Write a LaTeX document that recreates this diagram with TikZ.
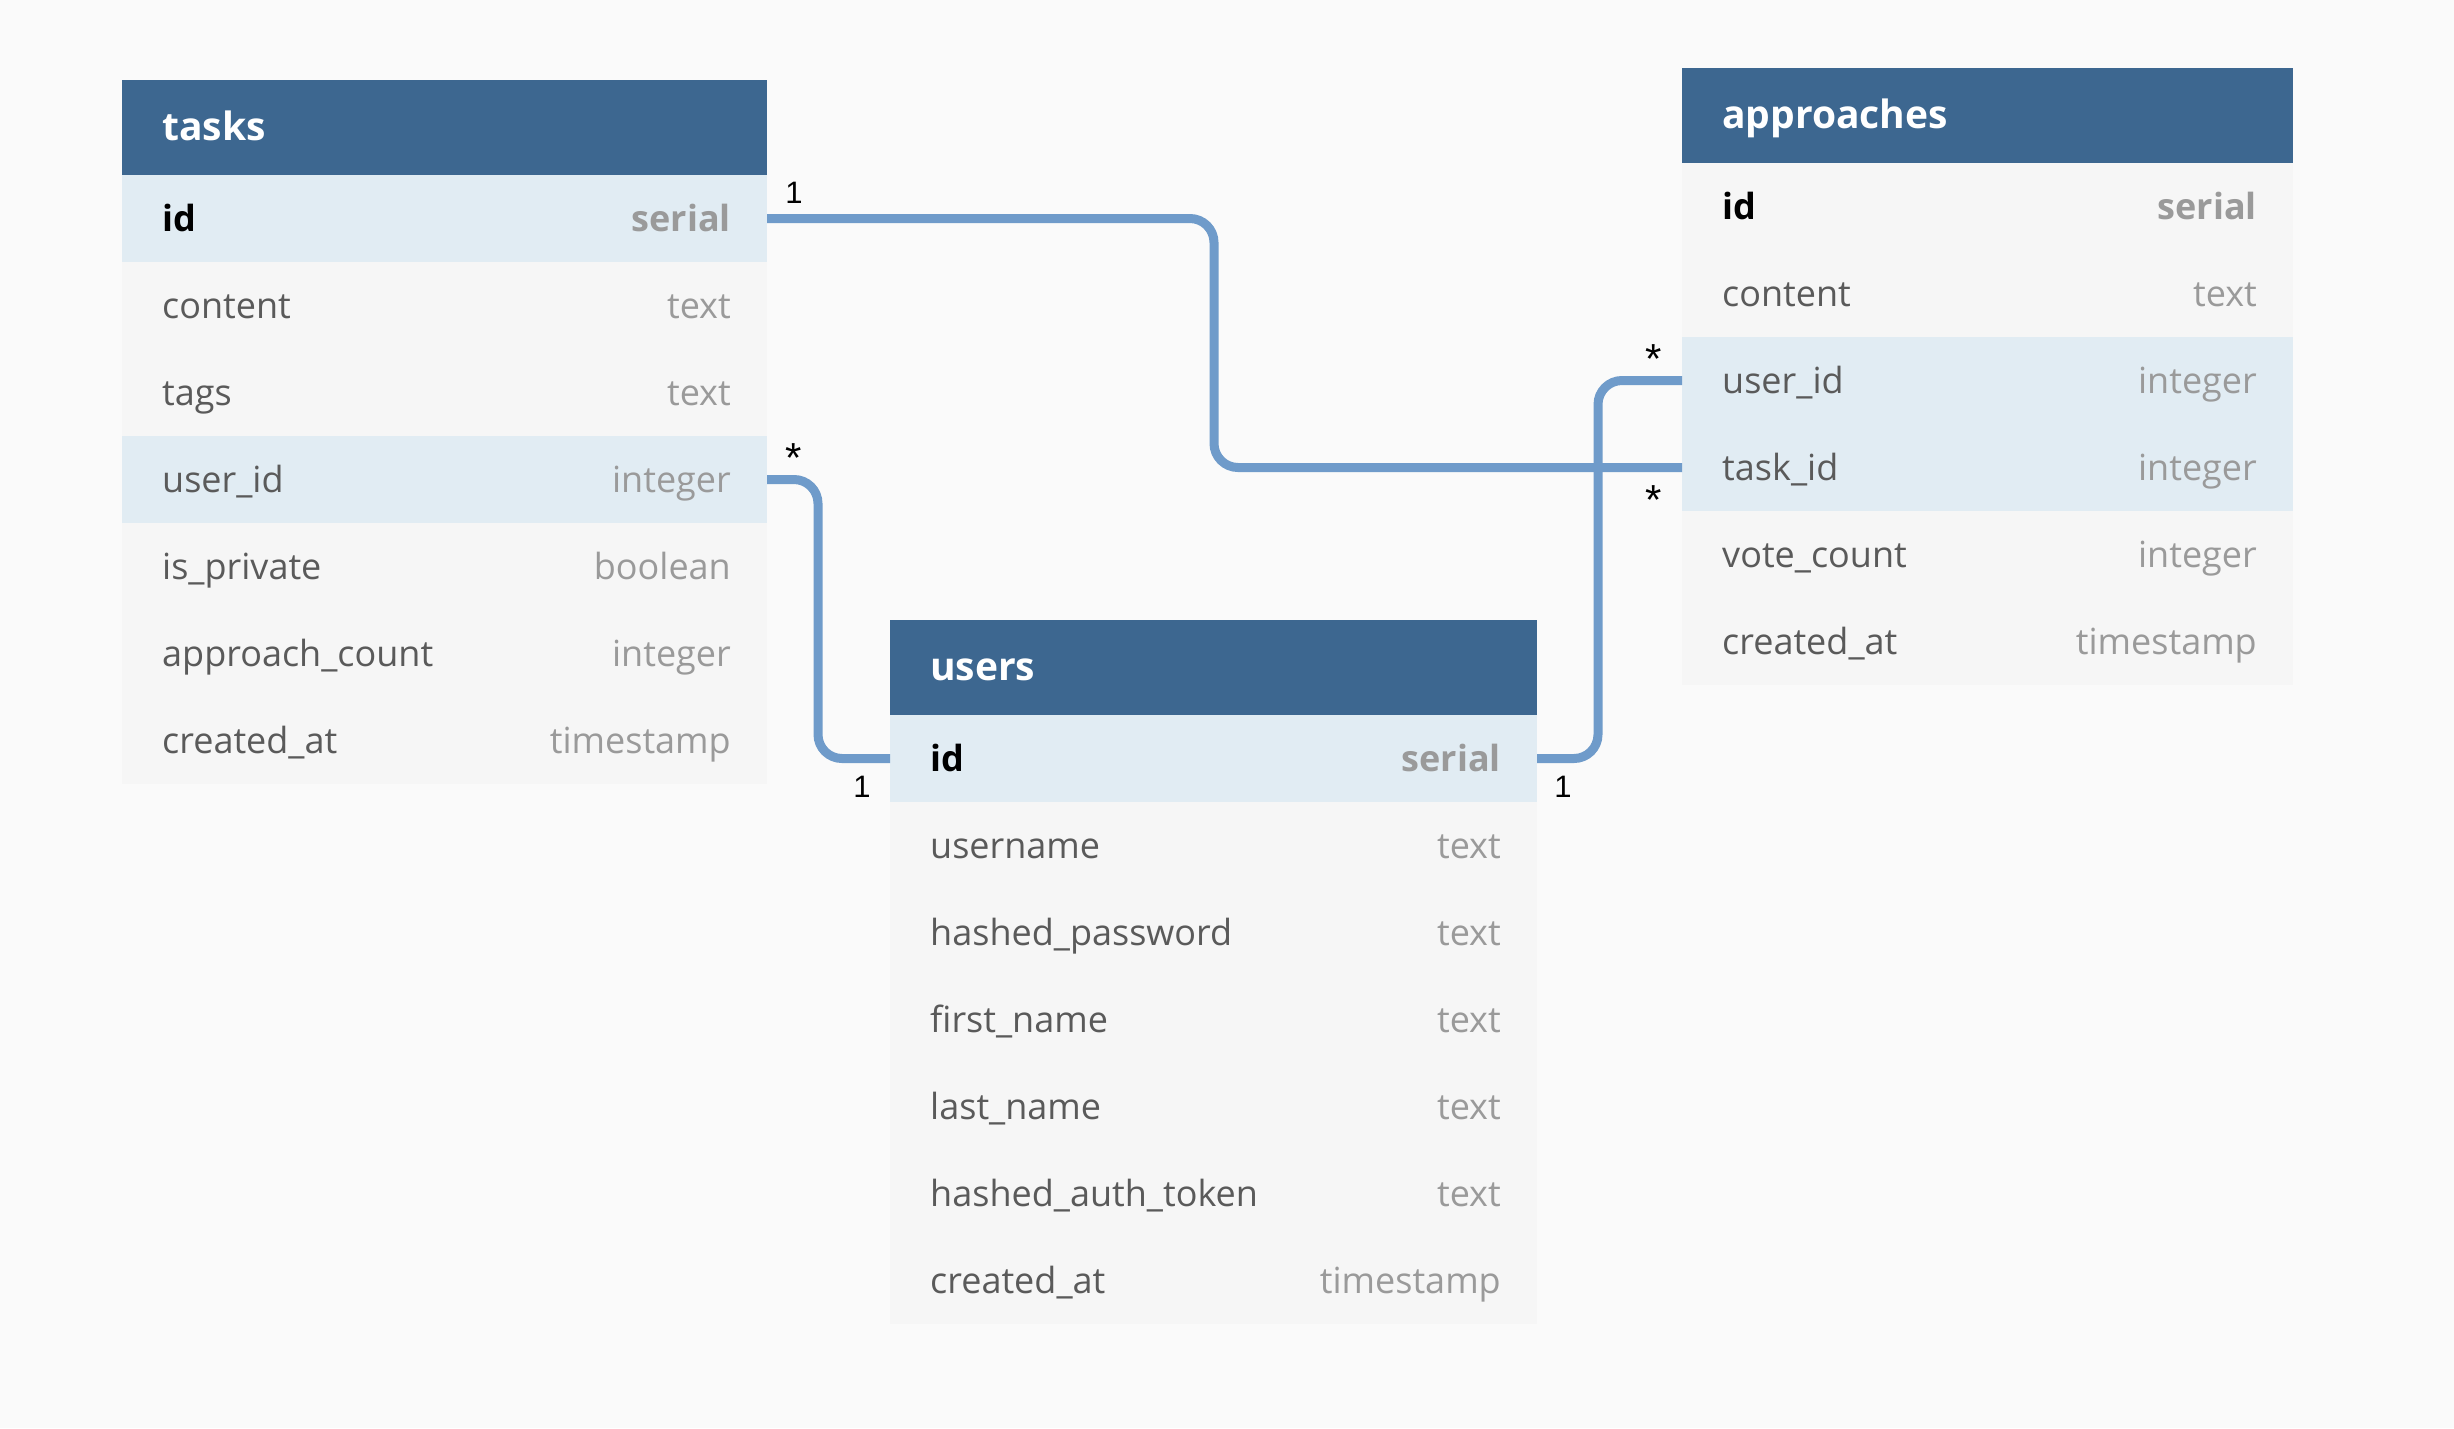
\documentclass[tikz,border=0pt]{standalone}
\usepackage{fontspec}
\setmainfont{Open Sans}[BoldFont={Open Sans Bold}]
\newfontfamily\lblfont{Liberation Sans}
\definecolor{bgc}{HTML}{FAFAFA}
\definecolor{hdrc}{HTML}{3D6790}
\definecolor{rowc}{HTML}{F6F6F6}
\definecolor{hlc}{HTML}{E1ECF3}
\definecolor{namec}{HTML}{5A5A5A}
\definecolor{typec}{HTML}{9A9A9A}
\definecolor{connc}{HTML}{6F9BCA}
\newcommand\pkname[1]{\textbf{\textcolor{black}{#1}}}
\newcommand\pktype[1]{\textbf{#1}}
% #1 node name, #2 x left, #3 y top, #4 width, #5 fill style, #6 field, #7 type
\newcommand\tblrow[7]{%
  \node[rowbox,#5,minimum width=#4pt,anchor=north west] (#1) at (#2,#3) {};
  \node[fieldtxt,anchor=base west] (#1-n) at ([xshift=40pt,yshift=-12.5pt]#1.west) {#6};
  \node[typetxt,anchor=base east] (#1-t) at ([xshift=-36pt,yshift=-12.5pt]#1.east) {#7};}
\newcommand\tblhead[5]{%
  \node[hdrbox,minimum width=#4pt,anchor=north west] (#1) at (#2,#3) {};
  \node[hdrtxt,anchor=base west] (#1-n) at ([xshift=40pt,yshift=-13pt]#1.west) {#5};}
\tikzset{
  rowbox/.style={rectangle,inner sep=0pt,outer sep=0pt,minimum height=87pt,draw=none},
  plainrow/.style={fill=rowc},
  hlrow/.style={fill=hlc},
  hdrbox/.style={rectangle,inner sep=0pt,outer sep=0pt,minimum height=95pt,fill=hdrc},
  fieldtxt/.style={inner sep=0pt,text=namec,font=\fontsize{36}{43}\selectfont},
  typetxt/.style={inner sep=0pt,text=typec,font=\fontsize{36}{43}\selectfont},
  hdrtxt/.style={inner sep=0pt,text=white,font=\fontsize{39}{46}\selectfont\bfseries},
  conn/.style={draw=connc,line width=9pt,rounded corners=24pt},
  card/.style={inner sep=0pt,text=black,font=\lblfont\fontsize{31}{37}\selectfont},
  cardstar/.style={inner sep=0pt,text=black,font=\lblfont\fontsize{42}{50}\selectfont}
}
\begin{document}
\begin{tikzpicture}[x=1pt,y=-1pt]
\fill[bgc] (0,0) rectangle (2454,1428);
\useasboundingbox (0,0) rectangle (2454,1428);
% tasks
\tblhead{tasks}{122}{80}{645}{tasks}
\tblrow{tasks-id}{122}{175}{645}{hlrow}{\pkname{id}}{\pktype{serial}}
\tblrow{tasks-content}{122}{262}{645}{plainrow}{content}{text}
\tblrow{tasks-tags}{122}{349}{645}{plainrow}{tags}{text}
\tblrow{tasks-uid}{122}{436}{645}{hlrow}{user\_id}{integer}
\tblrow{tasks-priv}{122}{523}{645}{plainrow}{is\_private}{boolean}
\tblrow{tasks-count}{122}{610}{645}{plainrow}{approach\_count}{integer}
\tblrow{tasks-created}{122}{697}{645}{plainrow}{created\_at}{timestamp}
% approaches
\tblhead{appr}{1682}{68}{611}{approaches}
\tblrow{appr-id}{1682}{163}{611}{plainrow}{\pkname{id}}{\pktype{serial}}
\tblrow{appr-content}{1682}{250}{611}{plainrow}{content}{text}
\tblrow{appr-uid}{1682}{337}{611}{hlrow}{user\_id}{integer}
\tblrow{appr-task}{1682}{424}{611}{hlrow}{task\_id}{integer}
\tblrow{appr-vote}{1682}{511}{611}{plainrow}{vote\_count}{integer}
\tblrow{appr-created}{1682}{598}{611}{plainrow}{created\_at}{timestamp}
% users
\tblhead{users}{890}{620}{647}{users}
\tblrow{users-id}{890}{715}{647}{hlrow}{\pkname{id}}{\pktype{serial}}
\tblrow{users-name}{890}{802}{647}{plainrow}{username}{text}
\tblrow{users-pw}{890}{889}{647}{plainrow}{hashed\_password}{text}
\tblrow{users-first}{890}{976}{647}{plainrow}{first\_name}{text}
\tblrow{users-last}{890}{1063}{647}{plainrow}{last\_name}{text}
\tblrow{users-token}{890}{1150}{647}{plainrow}{hashed\_auth\_token}{text}
\tblrow{users-created}{890}{1237}{647}{plainrow}{created\_at}{timestamp}
% connectors
\draw[conn] (tasks-id.east) -- ([xshift=447pt]tasks-id.east) |- (appr-task.west);
\draw[conn] (tasks-uid.east) -- ([xshift=51pt]tasks-uid.east) |- (users-id.west);
\draw[conn] (users-id.east) -- ([xshift=61pt]users-id.east) |- (appr-uid.west);
% cardinalities
\node[card,anchor=base] (c1) at (794,203) {1};
\node[cardstar,anchor=base] (c2) at (794,472) {*};
\node[card,anchor=base] (c3) at (862,797) {1};
\node[card,anchor=base] (c4) at (1563,797) {1};
\node[cardstar,anchor=base] (c5) at (1654,373) {*};
\node[cardstar,anchor=base] (c6) at (1654,514) {*};
\end{tikzpicture}
\end{document}
